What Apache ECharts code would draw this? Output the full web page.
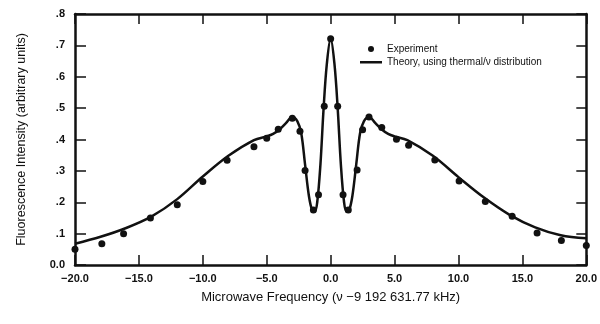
<!DOCTYPE html>
<html>
<head>
<meta charset="utf-8">
<script src="https://cdn.jsdelivr.net/npm/echarts@6/dist/echarts.min.js"></script>
<style>
  html, body { margin: 0; padding: 0; background: #fff; }
  #chart { width: 600px; height: 324px; }
</style>
</head>
<body>
<div id="chart"></div>
<script>
// experiment points (kHz offset, intensity)
const expFreq = [-20, -17.9, -16.2, -14.1, -12.0, -10.0, -8.1, -6.0, -5.0, -4.1, -3.0, -2.4, -2.0, -1.35, -0.95, -0.5, 0, 0.55, 0.97, 1.38, 2.07, 2.5, 3.0, 4.0, 5.15, 6.1, 8.15, 10.05, 12.1, 14.2, 16.15, 18.05, 20.0];
const expVal = [0.05, 0.068, 0.10, 0.15, 0.192, 0.266, 0.334, 0.377, 0.404, 0.433, 0.468, 0.426, 0.301, 0.175, 0.224, 0.506, 0.721, 0.506, 0.224, 0.175, 0.303, 0.431, 0.472, 0.438, 0.401, 0.382, 0.335, 0.268, 0.202, 0.155, 0.102, 0.078, 0.062];

// theory curve, traced
const theoryFreq = [-20, -18, -16, -14, -12, -10, -8, -6, -5, -4.5, -4, -3.5, -3, -2.6, -2.3, -2.0, -1.7, -1.45, -1.25, -1.05, -0.8, -0.55, -0.3, 0, 0.3, 0.55, 0.8, 1.05, 1.25, 1.45, 1.7, 2.0, 2.3, 2.6, 3, 3.5, 4, 4.5, 5, 6, 8, 10, 12, 14, 16, 18, 20];
const theoryVal = [0.068, 0.09, 0.118, 0.155, 0.21, 0.282, 0.348, 0.398, 0.41, 0.418, 0.432, 0.452, 0.472, 0.458, 0.42, 0.32, 0.22, 0.175, 0.17, 0.2, 0.32, 0.5, 0.64, 0.722, 0.64, 0.5, 0.32, 0.2, 0.17, 0.175, 0.22, 0.32, 0.42, 0.458, 0.472, 0.452, 0.432, 0.418, 0.41, 0.398, 0.348, 0.28, 0.215, 0.16, 0.12, 0.095, 0.085];

const chart = echarts.init(document.getElementById('chart'));

const lineStyle = { color: '#111', width: 2.5 };
const font = 'Liberation Sans, Arial, sans-serif';

const xLabel = (v) => {
  if (v < 0) return '\u2212' + Math.abs(v).toFixed(1);
  return v.toFixed(1);
};
const yLabel = (v) => {
  if (v === 0) return '0.0';
  return '.' + Math.round(v * 10);
};

const option = {
  animation: false,
  grid: { left: 75, right: 11, top: 14, bottom: 59 },
  legend: {
    orient: 'vertical',
    left: 355,
    top: 39,
    itemWidth: 22,
    itemHeight: 6,
    itemGap: 3,
    textStyle: { fontSize: 10, color: '#111', fontFamily: font },
    data: [
      { name: 'Experiment', icon: 'circle' },
      // thin bar, padded to the full icon box so it is not stretched
      { name: 'Theory, using thermal/\u03bd distribution', icon: 'path://M0,0L0,0.01L0.01,0.01ZM0,2L22,2L22,4.4L0,4.4ZM22,6L22,5.99L21.99,5.99Z' }
    ]
  },
  xAxis: [
    {
      type: 'value', min: -20, max: 20, interval: 5,
      axisLine: { onZero: false, lineStyle: lineStyle },
      axisTick: { inside: true, length: 10, lineStyle: { color: '#111', width: 1.5 } },
      axisLabel: { formatter: xLabel, margin: 8, color: '#111', fontSize: 11, fontWeight: 'bold', fontFamily: font },
      splitLine: { show: false },
      name: 'Microwave Frequency (\u03bd \u22129 192 631.77 kHz)',
      nameLocation: 'middle', nameGap: 26,
      nameTextStyle: { fontSize: 13, color: '#111', fontFamily: font }
    },
    {
      type: 'value', min: -20, max: 20, interval: 5, position: 'top',
      axisLine: { onZero: false, lineStyle: lineStyle },
      axisTick: { inside: true, length: 10, lineStyle: { color: '#111', width: 1.5 } },
      axisLabel: { show: false },
      splitLine: { show: false }
    }
  ],
  yAxis: [
    {
      type: 'value', min: 0, max: 0.8, interval: 0.1, position: 'left',
      axisLine: { show: true, onZero: false, lineStyle: lineStyle },
      axisTick: { show: true, inside: true, length: 11, lineStyle: { color: '#111', width: 1.5 } },
      axisLabel: { formatter: yLabel, margin: 10, color: '#111', fontSize: 11, fontWeight: 'bold', fontFamily: font },
      splitLine: { show: false },
      name: 'Fluorescence Intensity (arbitrary units)',
      nameLocation: 'middle', nameGap: 47,
      nameTextStyle: { fontSize: 12.5, color: '#111', fontFamily: font }
    },
    {
      type: 'value', min: 0, max: 0.8, interval: 0.1, position: 'right',
      axisLine: { show: true, onZero: false, lineStyle: lineStyle },
      axisTick: { show: true, inside: true, length: 10, lineStyle: { color: '#111', width: 1.5 } },
      axisLabel: { show: false },
      splitLine: { show: false }
    }
  ],
  series: [
    {
      name: 'Theory, using thermal/\u03bd distribution',
      type: 'line',
      data: theoryFreq.map((f, i) => [f, theoryVal[i]]),
      smooth: 0.35,
      symbol: 'none',
      lineStyle: { color: '#111', width: 2.5 },
      itemStyle: { color: '#111' },
      z: 2
    },
    {
      name: 'Experiment',
      type: 'scatter',
      data: expFreq.map((f, i) => [f, expVal[i]]),
      symbolSize: 7,
      itemStyle: { color: '#111', opacity: 1 },
      z: 3
    }
  ]
};

chart.setOption(option);
</script>
</body>
</html>
